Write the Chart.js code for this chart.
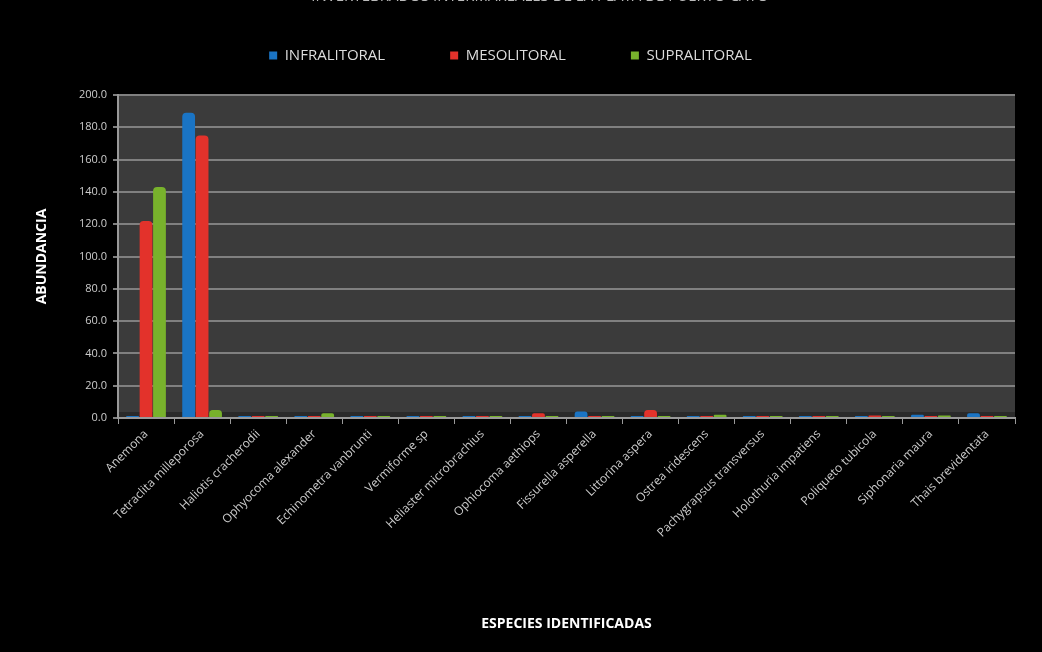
<!DOCTYPE html>
<html>
<head>
<meta charset="utf-8">
<script src="https://cdn.jsdelivr.net/npm/chart.js@4.4.1/dist/chart.umd.min.js"></script>
<style>
  html, body { margin: 0; padding: 0; background: #000; }
  #wrap { width: 1042px; height: 652px; }
</style>
</head>
<body>
<div id="wrap"><canvas id="abundanciaChart" width="1042" height="652"></canvas></div>
<script>
const titulo = 'INVERTEBRADOS INTERMAREALES DE LA PLAYA DE PUERTO CAYO';

const especies = [
  'Anemona', 'Tetraclita milleporosa', 'Haliotis cracherodii', 'Ophyocoma alexander',
  'Echinometra vanbrunti', 'Vermiforme sp', 'Heliaster microbrachius', 'Ophiocoma aethiops',
  'Fissurella asperella', 'Littorina aspera', 'Ostrea iridescens', 'Pachygrapsus transversus',
  'Holothuria impatiens', 'Poliqueto tubicola', 'Siphonaria maura', 'Thais brevidentata'
];

const infralitoral = [1, 189, 1, 0.5, 0.5, 0.5, 1, 0.5, 4, 0.5, 0.5, 1, 1, 0.5, 2, 3];
const mesolitoral  = [122, 175, 1, 0.5, 1, 1, 1, 3, 0.5, 5, 0.5, 0.5, 0.5, 1.5, 0.5, 0.5];
const supralitoral = [143, 5, 1, 3, 1, 0.5, 0.5, 0.5, 0.5, 0.5, 2, 0.5, 0.5, 0.5, 1.5, 0.5];

const yTicks = [0, 20, 40, 60, 80, 100, 120, 140, 160, 180, 200];

// fondo gris del area de trazado + titulo cortado arriba + leyenda a medida
const fondoPlugin = {
  id: 'fondo',
  afterInit(chart) {
    const legend = chart.legend;
    if (legend) {
      const fitOrig = legend.fit;
      legend.fit = function () {
        fitOrig.call(this);
        this.height = 112;
      };
    }
  },
  afterLayout(chart) {
    if (chart.legend) {
      chart.legend.left -= 14;
      chart.legend.right -= 14;
    }
  },
  beforeDraw(chart) {
    const { ctx, chartArea } = chart;
    ctx.save();
    ctx.fillStyle = '#3b3b3b';
    ctx.fillRect(chartArea.left, chartArea.top, chartArea.right - chartArea.left, chartArea.bottom - chartArea.top);
    ctx.fillStyle = '#2a2a2a';
    ctx.fillRect(chartArea.left, chartArea.bottom - 6, chartArea.right - chartArea.left, 6);
    ctx.restore();
  },
  afterDraw(chart) {
    const ctx = chart.ctx;
    ctx.save();
    ctx.fillStyle = '#bbbbbb';
    ctx.font = '15px "Open Sans", sans-serif';
    ctx.textAlign = 'center';
    ctx.textBaseline = 'middle';
    ctx.fillText(titulo, 540, -3);
    ctx.restore();
  }
};

const ctx = document.getElementById('abundanciaChart').getContext('2d');
new Chart(ctx, {
  type: 'bar',
  data: {
    labels: especies,
    datasets: [
      { label: 'INFRALITORAL', data: infralitoral, backgroundColor: '#1a74c4', borderColor: '#1a74c4' },
      { label: 'MESOLITORAL', data: mesolitoral, backgroundColor: '#e3322b', borderColor: '#e3322b' },
      { label: 'SUPRALITORAL', data: supralitoral, backgroundColor: '#78b22c', borderColor: '#78b22c' }
    ]
  },
  options: {
    responsive: false,
    animation: false,
    devicePixelRatio: 1,
    layout: { padding: { left: 34, right: 27, top: -17, bottom: 10 } },
    datasets: {
      bar: { categoryPercentage: 0.72, barPercentage: 0.95, borderRadius: 4, minBarLength: 2 }
    },
    plugins: {
      legend: {
        position: 'top',
        labels: {
          color: '#dddddd',
          font: { family: '"Open Sans", sans-serif', size: 15 },
          boxWidth: 8,
          boxHeight: 8,
          padding: 65
        }
      },
      tooltip: { enabled: false }
    },
    scales: {
      x: {
        grid: { display: true, drawOnChartArea: false, color: '#999999', tickLength: 6, offset: true },
        border: { color: '#999999', width: 2 },
        ticks: {
          color: '#cccccc',
          font: { family: '"Open Sans", sans-serif', size: 12 },
          minRotation: 45,
          maxRotation: 45,
          autoSkip: false
        },
        title: {
          display: true,
          text: 'ESPECIES IDENTIFICADAS',
          color: '#ffffff',
          font: { family: '"Open Sans", sans-serif', size: 14, weight: 'bold' },
          padding: { top: 0, bottom: 10 }
        },
        afterFit(scale) { scale.height = 224; }
      },
      y: {
        min: 0,
        max: 200,
        afterBuildTicks(scale) { scale.ticks = yTicks.map(v => ({ value: v })); },
        grid: { color: '#808080', lineWidth: 2, tickLength: 5 },
        border: { color: '#999999', width: 2 },
        ticks: {
          color: '#cccccc',
          font: { family: '"Open Sans", sans-serif', size: 11 },
          padding: 6,
          callback: v => Number(v).toFixed(1)
        },
        title: {
          display: true,
          text: 'ABUNDANCIA',
          color: '#ffffff',
          font: { family: '"Open Sans", sans-serif', size: 14, weight: 'bold' },
          padding: { top: 0, bottom: 10 }
        },
        afterFit(scale) { scale.width = 84; }
      }
    }
  },
  plugins: [fondoPlugin]
});
</script>
</body>
</html>
